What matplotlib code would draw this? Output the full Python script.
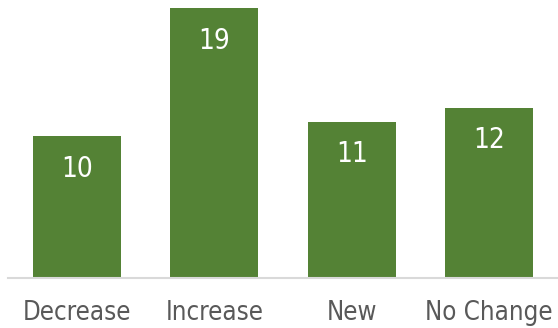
import matplotlib.pyplot as plt

categories = ["Decrease", "Increase", "New", "No Change"]
counts = [10, 19, 11, 12]

bar_color = "#548235"
text_gray = "#595959"

fig = plt.figure(figsize=(5.58, 3.28), dpi=100)
ax = fig.add_axes([8 / 558, 50 / 328, 550 / 558, 278 / 328])

x = range(len(categories))
bars = ax.bar(x, counts, width=0.64, color=bar_color, zorder=2)

# value labels sit inside each bar, near the top
for rect, val in zip(bars, counts):
    ax.annotate(
        str(val),
        (rect.get_x() + rect.get_width() / 2, rect.get_height()),
        xytext=(0, -23.5), textcoords="offset points",
        ha="center", va="center", color="white", fontsize=20,
        fontfamily="DejaVu Sans", fontstretch="condensed",
    )

ax.set_xlim(-0.5, 3.5)
ax.set_ylim(0, 19.58)
ax.set_xticks(list(x))
ax.set_xticklabels(categories, fontsize=18.5, color=text_gray,
                   fontfamily="DejaVu Sans", fontstretch="condensed")
ax.tick_params(axis="x", length=0, pad=16)
ax.set_yticks([])

for side in ["top", "left", "right"]:
    ax.spines[side].set_visible(False)
ax.spines["bottom"].set_color("#d9d9d9")
ax.spines["bottom"].set_linewidth(1.5)

fig.savefig("out.png", dpi=100)
plt.close(fig)
